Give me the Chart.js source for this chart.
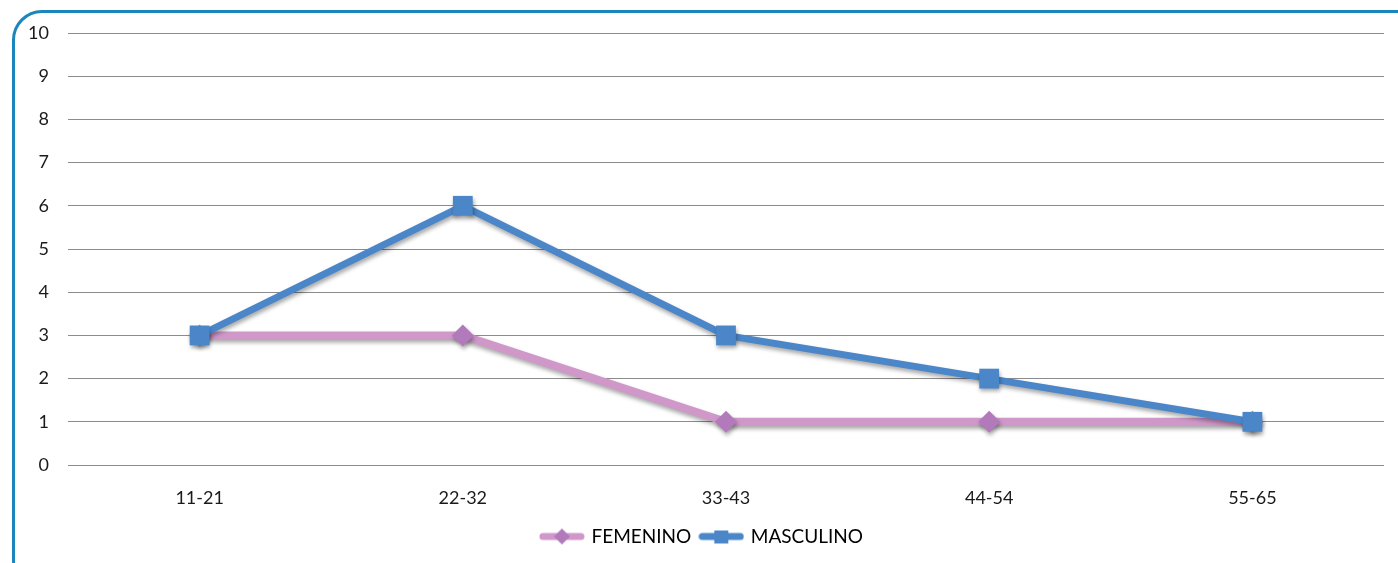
<!DOCTYPE html>
<html>
<head>
<meta charset="utf-8">
<script src="https://cdn.jsdelivr.net/npm/chart.js@4/dist/chart.umd.min.js"></script>
<style>
  html, body { margin: 0; padding: 0; background: #fff; overflow: hidden; }
  #wrap { position: relative; width: 1398px; height: 563px; }
  #frame { position: absolute; left: 12px; top: 10px; width: 1420px; height: 580px;
           border: 3px solid #1a86bd; border-radius: 30px; box-sizing: border-box; pointer-events: none; }
  canvas { position: absolute; left: 0; top: 0; }
</style>
</head>
<body>
<div id="wrap">
  <div id="frame"></div>
  <canvas id="c" width="1398" height="563"></canvas>
</div>
<script>
const categories = ['11-21', '22-32', '33-43', '44-54', '55-65'];
const femenino = [3, 3, 1, 1, 1];
const masculino = [3, 6, 3, 2, 1];
const seriesNames = ['FEMENINO', 'MASCULINO'];
const yTicks = [0, 1, 2, 3, 4, 5, 6, 7, 8, 9, 10];

const PINK = '#cf98c9';
const PINK_MARK = '#b27abb';
const BLUE = '#4a86c8';
const FONT = 'Lato, "Liberation Sans", sans-serif';

function legendIcon(lineColor, markColor, style) {
  const cv = document.createElement('canvas');
  cv.width = 46; cv.height = 18;
  const g = cv.getContext('2d');
  g.strokeStyle = lineColor; g.lineWidth = 7; g.lineCap = 'round';
  g.beginPath(); g.moveTo(4, 9); g.lineTo(42, 9); g.stroke();
  g.fillStyle = markColor;
  g.beginPath();
  if (style === 'diamond') {
    g.moveTo(23, 1); g.lineTo(31, 9); g.lineTo(23, 17); g.lineTo(15, 9); g.closePath();
  } else {
    g.rect(16, 3, 14, 13);
  }
  g.fill();
  return cv;
}
const icons = [legendIcon(PINK, PINK_MARK, 'diamond'), legendIcon(BLUE, BLUE, 'square')];

const shadowPlugin = {
  id: 'lineShadow',
  beforeDatasetsDraw(chart) {
    const ctx = chart.ctx;
    ctx.save();
    ctx.shadowColor = 'rgba(0,0,0,0.35)';
    ctx.shadowBlur = 4;
    ctx.shadowOffsetX = 1;
    ctx.shadowOffsetY = 3;
  },
  afterDatasetsDraw(chart) { chart.ctx.restore(); }
};

new Chart(document.getElementById('c'), {
  type: 'line',
  data: {
    labels: categories,
    datasets: [
      { label: seriesNames[0], data: femenino, borderColor: PINK, backgroundColor: PINK_MARK,
        borderWidth: 8, pointStyle: 'rectRot', pointRadius: 11, pointBackgroundColor: PINK_MARK,
        pointBorderColor: PINK_MARK, pointBorderWidth: 0, tension: 0, order: 1 },
      { label: seriesNames[1], data: masculino, borderColor: BLUE, backgroundColor: BLUE,
        borderWidth: 7, pointStyle: 'rect', pointRadius: 14, pointBackgroundColor: BLUE,
        pointBorderColor: BLUE, pointBorderWidth: 0, tension: 0, order: 0 }
    ]
  },
  options: {
    responsive: false,
    animation: false,
    events: [],
    layout: { padding: { left: 14, right: 7, top: 33, bottom: 7 } },
    plugins: {
      tooltip: { enabled: false },
      legend: {
        position: 'bottom',
        labels: {
          usePointStyle: true,
          pointStyleWidth: 40,
          padding: 10,
          color: '#1a1a1a',
          font: { family: FONT, size: 19 },
          sort: (a, b) => a.datasetIndex - b.datasetIndex,
          generateLabels(chart) {
            return chart.data.datasets.map((ds, i) => ({
              text: ds.label, datasetIndex: i, pointStyle: icons[i],
              fillStyle: ds.borderColor, strokeStyle: ds.borderColor, lineWidth: 0, hidden: false
            }));
          }
        }
      }
    },
    scales: {
      x: {
        offset: true,
        grid: { display: false, offset: true },
        border: { display: false },
        ticks: { color: '#1a1a1a', font: { family: FONT, size: 18 }, padding: 14 },
        afterFit(s) { s.height = 52; }
      },
      y: {
        min: 0, max: 10,
        afterBuildTicks(s) { s.ticks = yTicks.map(v => ({ value: v })); },
        grid: { color: '#8c8c8c', lineWidth: 1, drawTicks: false },
        border: { display: false },
        ticks: { color: '#1a1a1a', font: { family: FONT, size: 18 }, padding: 19 },
        afterFit(s) { s.width = 54; }
      }
    }
  },
  plugins: [shadowPlugin]
});
</script>
</body>
</html>
